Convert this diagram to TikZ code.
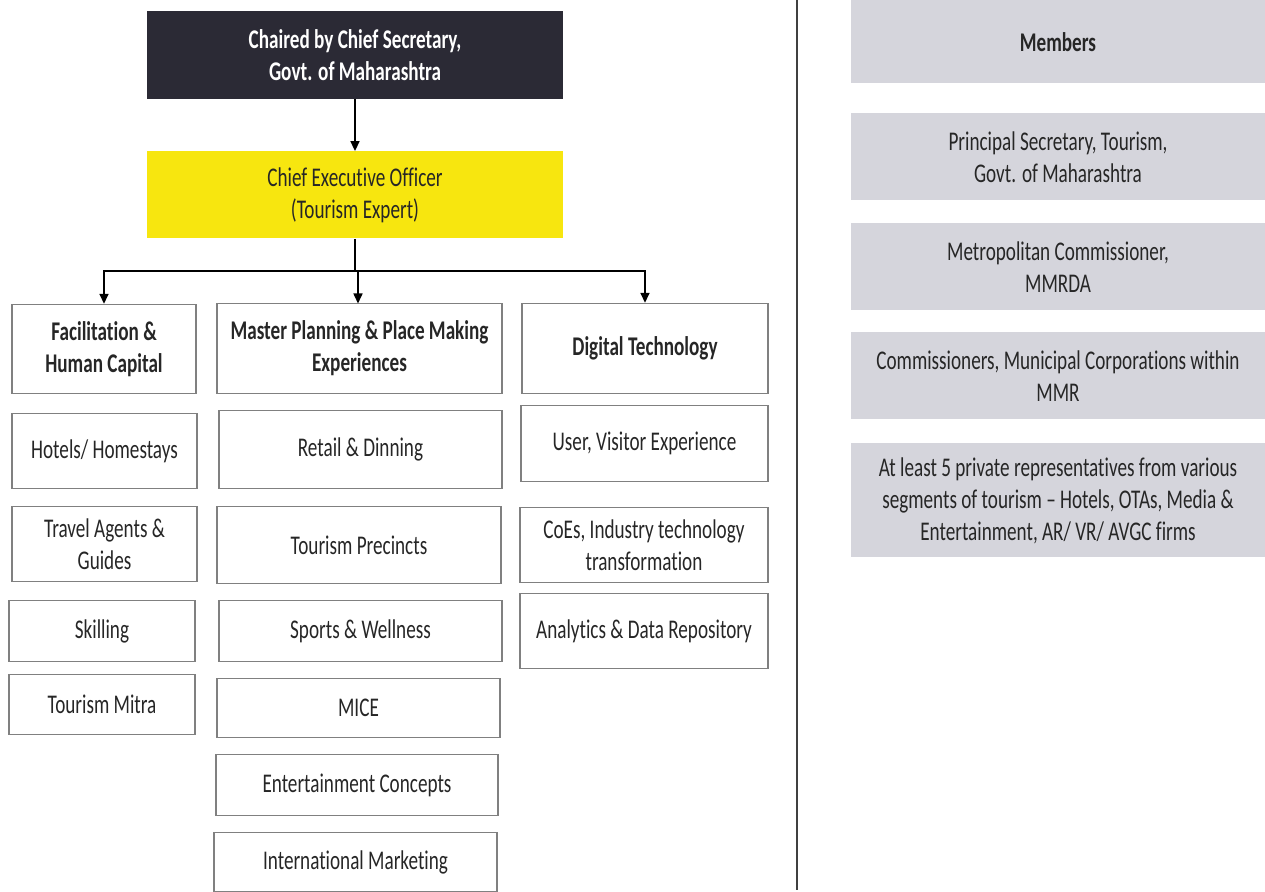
\documentclass[tikz,border=0pt]{standalone}
\usepackage{fontspec}
\setmainfont{Carlito}[FakeStretch=0.71, Ligatures=NoCommon]
\usetikzlibrary{arrows.meta}
\definecolor{chairfill}{HTML}{2B2A35}
\definecolor{ceofill}{HTML}{F7E60F}
\definecolor{memfill}{HTML}{D5D5DC}
\definecolor{boxline}{HTML}{808080}
\tikzset{
  base/.style={align=center, inner sep=0pt, font=\fontsize{13.5}{16}\selectfont},
  sz/.style 2 args={minimum width=#1*0.5pt, minimum height=#2*0.5pt},
  plainbox/.style={base, draw=boxline, line width=0.7pt, text=black!85},
  headbox/.style={plainbox, font=\fontsize{13.5}{16}\selectfont\bfseries},
  chairbox/.style={base, fill=chairfill, text=white, font=\fontsize{13.5}{16}\selectfont\bfseries},
  ceobox/.style={base, fill=ceofill, text=black!85},
  membox/.style={base, fill=memfill, text=black!85},
  arr/.style={line width=0.8pt, -{Triangle[length=5pt,width=4.5pt]}},
  conn/.style={line width=0.8pt}
}
\begin{document}
\begin{tikzpicture}[x=0.5pt,y=-0.5pt]
\useasboundingbox (0,0) rectangle (1265,892);
% top
\node[chairbox, sz={416}{88}] (chair) at (355,55) {Chaired by Chief Secretary,\\Govt. of Maharashtra};
\node[ceobox, sz={416}{87}] (ceo) at (355,195) {Chief Executive Officer\\(Tourism Expert)};
% heads
\node[headbox, sz={184}{89}] (fac) at (104,349) {Facilitation \&\\Human Capital};
\node[headbox, sz={285}{90}] (mpl) at (359.5,348.5) {Master Planning \& Place Making\\Experiences};
\node[headbox, sz={246}{90}] (dig) at (645,348.5) {Digital Technology};
% left column
\node[plainbox, sz={185}{75}] (hot) at (104.5,451) {Hotels/ Homestays};
\node[plainbox, sz={185}{75}] (trv) at (104.5,544) {Travel Agents \&\\Guides};
\node[plainbox, sz={186}{61}] (skl) at (102,631) {Skilling};
\node[plainbox, sz={186}{60}] (mit) at (102,704.5) {Tourism Mitra};
% middle column
\node[plainbox, sz={283}{78}] (ret) at (360.5,449.5) {Retail \& Dinning};
\node[plainbox, sz={284}{77}] (pre) at (359,545) {Tourism Precincts};
\node[plainbox, sz={283}{61}] (spo) at (360.5,631) {Sports \& Wellness};
\node[plainbox, sz={283}{59}] (mic) at (358.5,708) {MICE};
\node[plainbox, sz={282}{61}] (ent) at (357,785) {Entertainment Concepts};
\node[plainbox, sz={283}{59}] (int) at (355.5,862) {International Marketing};
% right column
\node[plainbox, sz={247}{76}] (usr) at (644.5,443.5) {User, Visitor Experience};
\node[plainbox, sz={248}{75}] (coe) at (644,545) {CoEs, Industry technology\\transformation};
\node[plainbox, sz={248}{75}] (ana) at (644,631) {Analytics \& Data Repository};
% members panel
\node[membox, sz={414}{83}, font=\fontsize{13.5}{16}\selectfont\bfseries] (mem) at (1058,42) {Members};
\node[membox, sz={414}{87}] (pri) at (1058,157) {Principal Secretary, Tourism,\\Govt. of Maharashtra};
\node[membox, sz={414}{87}] (met) at (1058,267) {Metropolitan Commissioner,\\MMRDA};
\node[membox, sz={414}{87}] (com) at (1058,376) {Commissioners, Municipal Corporations within\\MMR};
\node[membox, sz={414}{114}] (atl) at (1058,500.5) {At least 5 private representatives from various\\segments of tourism -- Hotels, OTAs, Media \&\\Entertainment, AR/ VR/ AVGC firms};
% divider
\coordinate (d1) at (797,0);
\coordinate (d2) at (797,890);
\draw[line width=0.8pt, black!75] (d1) -- (d2);
% connectors
\draw[arr] (chair.south) -- (ceo.north);
\coordinate (j) at (355,271);
\draw[conn] (ceo.south) -- (j);
\draw[arr] (j) -| (fac.north);
\draw[arr] (j) -| (dig.north);
\coordinate (jm) at (358,271);
\coordinate (mt) at (358,303.5);
\draw[arr] (jm) -- (mt);
\end{tikzpicture}
\end{document}
